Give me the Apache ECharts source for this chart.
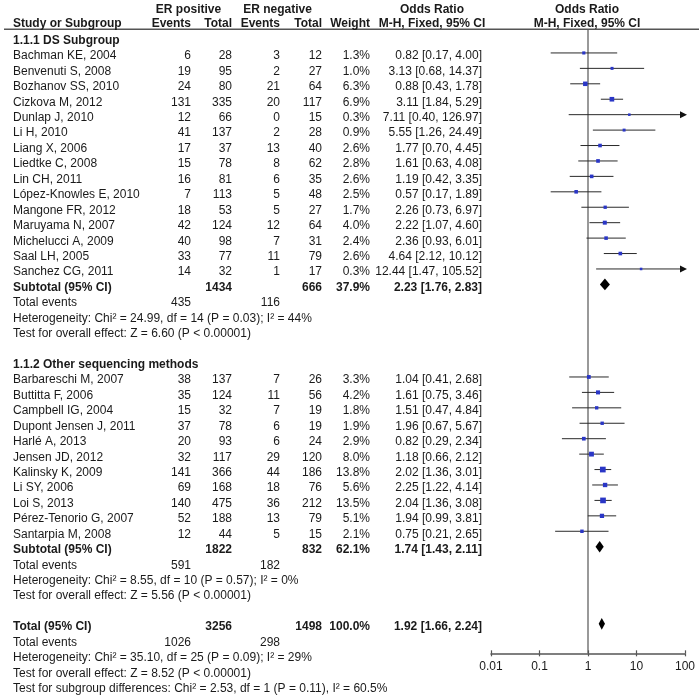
<!DOCTYPE html>
<html><head><meta charset="utf-8">
<script src="https://cdn.jsdelivr.net/npm/echarts@6/dist/echarts.min.js"></script>
<style>html,body{margin:0;padding:0;background:#fff}#c{width:699px;height:696px}</style>
</head><body><div id="c"></div>
<script>
// ---------------- DATA ----------------
const groupTitles = ['1.1.1 DS Subgroup', '1.1.2 Other sequencing methods'];

const group1Names = ['Bachman KE, 2004','Benvenuti S, 2008','Bozhanov SS, 2010','Cizkova M, 2012','Dunlap J, 2010','Li H, 2010','Liang X, 2006','Liedtke C, 2008','Lin CH, 2011','López-Knowles E, 2010','Mangone FR, 2012','Maruyama N, 2007','Michelucci A, 2009','Saal LH, 2005','Sanchez CG, 2011'];
const group1PosEvents = [6,19,24,131,12,41,17,15,16,7,18,42,40,33,14];
const group1PosTotal  = [28,95,80,335,66,137,37,78,81,113,53,124,98,77,32];
const group1NegEvents = [3,2,21,20,0,2,13,8,6,5,5,12,7,11,1];
const group1NegTotal  = [12,27,64,117,15,28,40,62,35,48,27,64,31,79,17];
const group1Weight    = [1.3,1.0,6.3,6.9,0.3,0.9,2.6,2.8,2.6,2.5,1.7,4.0,2.4,2.6,0.3];
const group1OR        = [0.82,3.13,0.88,3.11,7.11,5.55,1.77,1.61,1.19,0.57,2.26,2.22,2.36,4.64,12.44];
const group1Lower     = [0.17,0.68,0.43,1.84,0.40,1.26,0.70,0.63,0.42,0.17,0.73,1.07,0.93,2.12,1.47];
const group1Upper     = [4.00,14.37,1.78,5.29,126.97,24.49,4.45,4.08,3.35,1.89,6.97,4.60,6.01,10.12,105.52];

const group2Names = ['Barbareschi M, 2007','Buttitta F, 2006','Campbell IG, 2004','Dupont Jensen J, 2011','Harlé A, 2013','Jensen JD, 2012','Kalinsky K, 2009','Li SY, 2006','Loi S, 2013','Pérez-Tenorio G, 2007','Santarpia M, 2008'];
const group2PosEvents = [38,35,15,37,20,32,141,69,140,52,12];
const group2PosTotal  = [137,124,32,78,93,117,366,168,475,188,44];
const group2NegEvents = [7,11,7,6,6,29,44,18,36,13,5];
const group2NegTotal  = [26,56,19,19,24,120,186,76,212,79,15];
const group2Weight    = [3.3,4.2,1.8,1.9,2.9,8.0,13.8,5.6,13.5,5.1,2.1];
const group2OR        = [1.04,1.61,1.51,1.96,0.82,1.18,2.02,2.25,2.04,1.94,0.75];
const group2Lower     = [0.41,0.75,0.47,0.67,0.29,0.66,1.36,1.22,1.36,0.99,0.21];
const group2Upper     = [2.68,3.46,4.84,5.67,2.34,2.12,3.01,4.14,3.08,3.81,2.65];

const subtotalPosTotal = [1434, 1822];
const subtotalNegTotal = [666, 832];
const subtotalWeight   = [37.9, 62.1];
const subtotalOR       = [2.23, 1.74];
const subtotalLower    = [1.76, 1.43];
const subtotalUpper    = [2.83, 2.11];
const totalEventsPos   = [435, 591];
const totalEventsNeg   = [116, 182];
const heterogeneityText = ['Heterogeneity: Chi² = 24.99, df = 14 (P = 0.03); I² = 44%', 'Heterogeneity: Chi² = 8.55, df = 10 (P = 0.57); I² = 0%'];
const overallEffectText = ['Test for overall effect: Z = 6.60 (P < 0.00001)', 'Test for overall effect: Z = 5.56 (P < 0.00001)'];

const overallPosTotal = 3256, overallNegTotal = 1498, overallWeight = 100.0;
const overallOR = 1.92, overallLower = 1.66, overallUpper = 2.24;
const overallEventsPos = 1026, overallEventsNeg = 298;
const overallHet = 'Heterogeneity: Chi² = 35.10, df = 25 (P = 0.09); I² = 29%';
const overallTest = 'Test for overall effect: Z = 8.52 (P < 0.00001)';
const subgroupTest = 'Test for subgroup differences: Chi² = 2.53, df = 1 (P = 0.11), I² = 60.5%';

const tickValues = [0.01, 0.1, 1, 10, 100];
const tickLabels = ['0.01', '0.1', '1', '10', '100'];

// ---------------- LAYOUT ----------------
const W = 699, H = 696;
const R0 = 40.6, RH = 15.43;            // row 0 centre, row height (px)
const ROW_MIN = -2, ROW_MAX = 42;
const AXIS_ROW = 39.71;                  // row where the OR axis sits
const HEAD1 = -1.98, HEAD2 = -1.07, RULE = -0.73;
const MARK_SHIFT = -0.2;
const PLOT_L = 491, PLOT_R = 685;
const COL = {name: 13, pe: 191, pt: 232, ne: 280, nt: 322, w: 370, ci: 482};
const FONT = '"Liberation Sans", Arial, Helvetica, sans-serif';
const TXT = '#1a1a1a', LINE = '#555';

const gridTop = R0 + ROW_MIN * RH;
const gridBottom0 = H - (R0 + ROW_MAX * RH);
const gridBottom1 = H - (R0 + AXIS_ROW * RH);

const fmtCI = (o, l, u) => o.toFixed(2) + ' [' + l.toFixed(2) + ', ' + u.toFixed(2) + ']';
const fmtW = w => w.toFixed(1) + '%';

// ---------------- BUILD TEXT & MARK TABLES ----------------
const texts = [];
function t(x, row, text, align, bold) { texts.push({x, row, text: String(text), align, bold: !!bold}); }

t(188.5, HEAD1, 'ER positive', 'center', true);
t(277.5, HEAD1, 'ER negative', 'center', true);
t(432, HEAD1, 'Odds Ratio', 'center', true);
t(587, HEAD1, 'Odds Ratio', 'center', true);
t(COL.name, HEAD2, 'Study or Subgroup', 'left', true);
t(COL.pe, HEAD2, 'Events', 'right', true);
t(COL.pt, HEAD2, 'Total', 'right', true);
t(COL.ne, HEAD2, 'Events', 'right', true);
t(COL.nt, HEAD2, 'Total', 'right', true);
t(COL.w, HEAD2, 'Weight', 'right', true);
t(432, HEAD2, 'M-H, Fixed, 95% CI', 'center', true);
t(587, HEAD2, 'M-H, Fixed, 95% CI', 'center', true);

const studies = [];   // [or, lo, hi, row, weight]
const diamonds = [];  // [or, lo, hi, row]

const groups = [
  {names: group1Names, pe: group1PosEvents, pt: group1PosTotal, ne: group1NegEvents, nt: group1NegTotal, w: group1Weight, or: group1OR, lo: group1Lower, hi: group1Upper},
  {names: group2Names, pe: group2PosEvents, pt: group2PosTotal, ne: group2NegEvents, nt: group2NegTotal, w: group2Weight, or: group2OR, lo: group2Lower, hi: group2Upper}
];
let row = 0;
groups.forEach((g, gi) => {
  t(COL.name, row, groupTitles[gi], 'left', true);
  row++;
  g.names.forEach((n, i) => {
    t(COL.name, row, n, 'left');
    t(COL.pe, row, g.pe[i], 'right');
    t(COL.pt, row, g.pt[i], 'right');
    t(COL.ne, row, g.ne[i], 'right');
    t(COL.nt, row, g.nt[i], 'right');
    t(COL.w, row, fmtW(g.w[i]), 'right');
    t(COL.ci, row, fmtCI(g.or[i], g.lo[i], g.hi[i]), 'right');
    studies.push([g.or[i], g.lo[i], g.hi[i], row, g.w[i]]);
    row++;
  });
  t(COL.name, row, 'Subtotal (95% CI)', 'left', true);
  t(COL.pt, row, subtotalPosTotal[gi], 'right', true);
  t(COL.nt, row, subtotalNegTotal[gi], 'right', true);
  t(COL.w, row, fmtW(subtotalWeight[gi]), 'right', true);
  t(COL.ci, row, fmtCI(subtotalOR[gi], subtotalLower[gi], subtotalUpper[gi]), 'right', true);
  diamonds.push([subtotalOR[gi], subtotalLower[gi], subtotalUpper[gi], row]);
  row++;
  t(COL.name, row, 'Total events', 'left');
  t(COL.pe, row, totalEventsPos[gi], 'right');
  t(COL.ne, row, totalEventsNeg[gi], 'right');
  row++;
  t(COL.name, row, heterogeneityText[gi], 'left'); row++;
  t(COL.name, row, overallEffectText[gi], 'left'); row++;
  row++; // blank
});
t(COL.name, row, 'Total (95% CI)', 'left', true);
t(COL.pt, row, overallPosTotal, 'right', true);
t(COL.nt, row, overallNegTotal, 'right', true);
t(COL.w, row, fmtW(overallWeight), 'right', true);
t(COL.ci, row, fmtCI(overallOR, overallLower, overallUpper), 'right', true);
diamonds.push([overallOR, overallLower, overallUpper, row]);
row++;
t(COL.name, row, 'Total events', 'left');
t(COL.pe, row, overallEventsPos, 'right');
t(COL.ne, row, overallEventsNeg, 'right');
row++;
t(COL.name, row, overallHet, 'left'); row++;
t(COL.name, row, overallTest, 'left'); row++;
t(COL.name, row, subgroupTest, 'left');

// ---------------- CHART ----------------
const chart = echarts.init(document.getElementById('c'), null, {renderer: 'canvas'});
const labelFor = v => {
  for (let i = 0; i < tickValues.length; i++) {
    if (Math.abs(Math.log10(v) - Math.log10(tickValues[i])) < 1e-6) return tickLabels[i];
  }
  return '';
};

chart.setOption({
  animation: false,
  backgroundColor: '#fff',
  grid: [
    {left: 0, right: 0, top: gridTop, bottom: gridBottom0},
    {left: PLOT_L, right: W - PLOT_R, top: gridTop, bottom: gridBottom1}
  ],
  xAxis: [
    {gridIndex: 0, type: 'value', min: 0, max: W, show: false},
    {gridIndex: 1, type: 'log', logBase: 10, min: 0.01, max: 100, splitNumber: 4, position: 'bottom',
     axisLine: {show: true, onZero: false, lineStyle: {color: LINE, width: 1.5}},
     axisTick: {show: true, length: 3, lineStyle: {color: LINE, width: 1.2}},
     axisLabel: {show: true, margin: 7, color: TXT, fontSize: 12, fontFamily: FONT, formatter: labelFor},
     splitLine: {show: false}},
    {gridIndex: 1, type: 'log', logBase: 10, min: 0.01, max: 100, splitNumber: 4, position: 'bottom',
     axisLine: {show: false, onZero: false},
     axisTick: {show: true, inside: true, length: 3, lineStyle: {color: LINE, width: 1.2}},
     axisLabel: {show: false}, splitLine: {show: false}}
  ],
  yAxis: [
    {gridIndex: 0, type: 'value', min: ROW_MIN, max: ROW_MAX, inverse: true, show: false},
    {gridIndex: 1, type: 'value', min: ROW_MIN, max: AXIS_ROW, inverse: true, show: false}
  ],
  series: [
    // header rule
    {type: 'custom', xAxisIndex: 0, yAxisIndex: 0, silent: true, clip: false,
     data: [[4, W, RULE]],
     renderItem: (p, api) => {
       const a = api.coord([api.value(0), api.value(2)]);
       const b = api.coord([api.value(1), api.value(2)]);
       return {type: 'line', shape: {x1: a[0], y1: a[1], x2: b[0], y2: b[1]}, style: {stroke: LINE, lineWidth: 1.5}};
     }},
    // table texts
    {type: 'custom', xAxisIndex: 0, yAxisIndex: 0, silent: true, clip: false,
     data: texts.map(d => [d.x, d.row]),
     renderItem: (p, api) => {
       const d = texts[p.dataIndex];
       const pt = api.coord([api.value(0), api.value(1)]);
       return {type: 'text', x: pt[0], y: pt[1], style: {
         text: d.text, align: d.align, verticalAlign: 'middle',
         font: (d.bold ? 'bold ' : '') + '12px ' + FONT, fill: TXT}};
     }},
    // line of no effect
    {type: 'custom', xAxisIndex: 1, yAxisIndex: 1, silent: true, clip: false,
     data: [[1, RULE, AXIS_ROW]],
     renderItem: (p, api) => {
       const a = api.coord([api.value(0), api.value(1)]);
       const b = api.coord([api.value(0), api.value(2)]);
       return {type: 'line', shape: {x1: a[0], y1: a[1], x2: b[0], y2: b[1]}, style: {stroke: LINE, lineWidth: 1.2}};
     }},
    // study CIs and squares
    {type: 'custom', xAxisIndex: 1, yAxisIndex: 1, silent: true, clip: false,
     data: studies,
     renderItem: (p, api) => {
       const r = api.value(3) + MARK_SHIFT;
       const hi = api.value(2);
       const pl = api.coord([api.value(1), r]);
       const ph = api.coord([Math.min(hi, 100), r]);
       const po = api.coord([api.value(0), r]);
       const s = 2 + Math.sqrt(api.value(4));
       const children = [];
       const x2 = hi > 100 ? ph[0] + 2 : ph[0];
       children.push({type: 'line', shape: {x1: pl[0], y1: pl[1], x2: x2 - (hi > 100 ? 4 : 0), y2: ph[1]}, style: {stroke: '#2a2a2a', lineWidth: 1}});
       if (hi > 100) {
         children.push({type: 'polygon', shape: {points: [[x2, ph[1]], [x2 - 7, ph[1] - 3.5], [x2 - 7, ph[1] + 3.5]]}, style: {fill: '#111'}});
       }
       children.push({type: 'rect', shape: {x: po[0] - s / 2, y: po[1] - s / 2, width: s, height: s}, style: {fill: '#2a36c6'}});
       return {type: 'group', children};
     }},
    // diamonds
    {type: 'custom', xAxisIndex: 1, yAxisIndex: 1, silent: true, clip: false,
     data: diamonds,
     renderItem: (p, api) => {
       const r = api.value(3) + MARK_SHIFT;
       const pl = api.coord([api.value(1), r]);
       const ph = api.coord([api.value(2), r]);
       const po = api.coord([api.value(0), r]);
       const h = 5.8;
       return {type: 'polygon', shape: {points: [[pl[0], pl[1]], [po[0], po[1] - h], [ph[0], ph[1]], [po[0], po[1] + h]]}, style: {fill: '#000'}};
     }}
  ]
});
</script>
</body></html>
